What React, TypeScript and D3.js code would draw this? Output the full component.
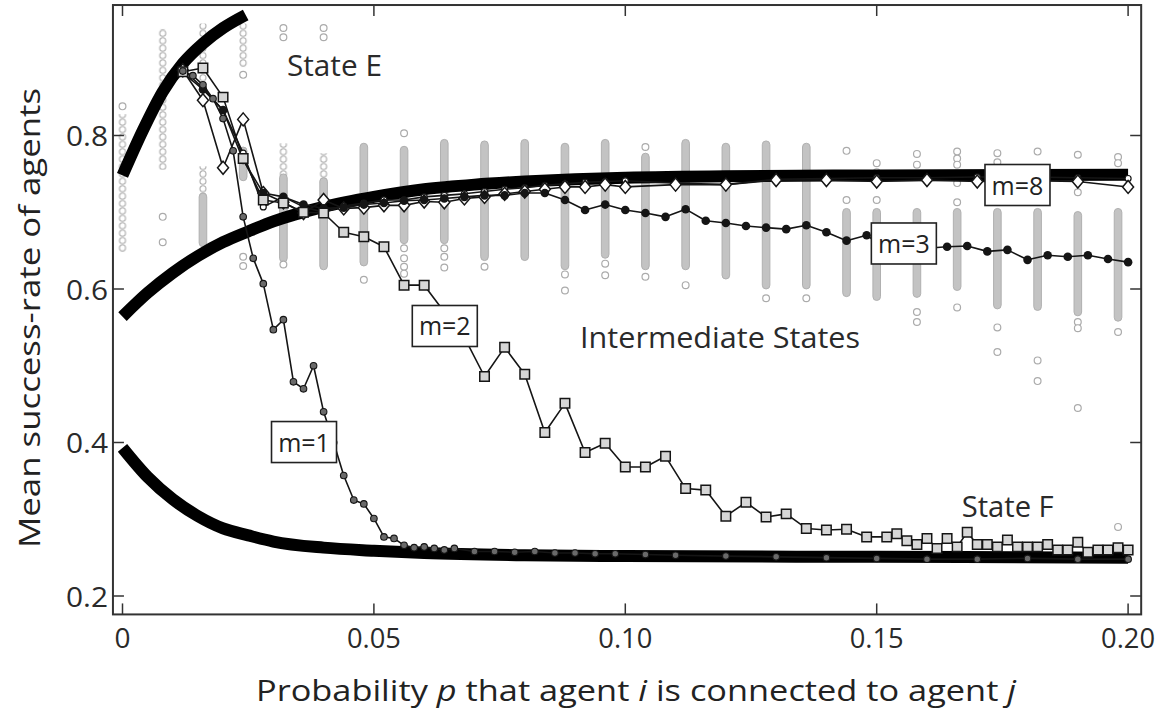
import React from 'react';
import * as d3 from 'd3';

type Pt = [number, number];

const W = 1163;
const H = 715;
const font = "'Open Sans', 'DejaVu Sans', sans-serif";

// axis ticks
const xTicks = [0, 0.05, 0.1, 0.15, 0.2];
const xTickLabels = ['0', '0.05', '0.10', '0.15', '0.20'];
const yTicks = [0.2, 0.4, 0.6, 0.8];
const yTickLabels = ['0.2', '0.4', '0.6', '0.8'];

// thick theory curves
const stateE: Pt[] = [
  [0, 0.748], [0.004, 0.806], [0.008, 0.857], [0.012, 0.894], [0.016, 0.92], [0.02, 0.94], [0.0245, 0.957],
];
const intermediate: Pt[] = [
  [0, 0.564], [0.005, 0.595], [0.01, 0.621], [0.015, 0.643], [0.02, 0.661], [0.025, 0.675], [0.03, 0.688],
  [0.04, 0.707], [0.05, 0.72], [0.06, 0.73], [0.07, 0.736], [0.08, 0.74], [0.09, 0.743], [0.1, 0.745],
  [0.12, 0.747], [0.15, 0.748], [0.2, 0.749],
];
const stateF: Pt[] = [
  [0, 0.393], [0.005, 0.355], [0.01, 0.326], [0.015, 0.304], [0.02, 0.288], [0.025, 0.279], [0.03, 0.271],
  [0.04, 0.263], [0.05, 0.259], [0.06, 0.256], [0.08, 0.253], [0.1, 0.252], [0.15, 0.251], [0.2, 0.25],
];

// grey scatter columns: p of each column, dense runs, chained runs and lone points
const colP = [
  0, 0.008, 0.016, 0.024, 0.032, 0.04, 0.048, 0.056, 0.064, 0.072, 0.08, 0.088, 0.096,
  0.104, 0.112, 0.12, 0.128, 0.136, 0.144, 0.15, 0.158, 0.166, 0.174, 0.182, 0.19, 0.198,
];
const colBands: Pt[][] = [
  [], [], [[0.66, 0.72]], [[0.746, 0.78]], [[0.64, 0.745]], [[0.63, 0.74]], [[0.635, 0.785]],
  [[0.664, 0.781]], [[0.664, 0.79]], [[0.642, 0.788]], [[0.642, 0.79]], [[0.63, 0.785]], [[0.645, 0.79]],
  [[0.63, 0.772]], [[0.63, 0.79]], [[0.618, 0.785]], [[0.605, 0.788]], [[0.605, 0.785]], [[0.595, 0.7]],
  [[0.59, 0.7]], [[0.594, 0.7]], [[0.603, 0.7]], [[0.579, 0.7]], [[0.577, 0.7]], [[0.57, 0.696]], [[0.563, 0.7]],
];
const colChains: Pt[][] = [
  [[0.653, 0.823]], [[0.76, 0.934]], [[0.876, 0.941], [0.72, 0.755]], [[0.894, 0.941]], [[0.745, 0.785]],
  [[0.74, 0.772]], [], [], [], [], [], [], [], [], [], [], [], [], [], [], [], [], [], [], [], [],
];
const colDots: number[][] = [
  [0.838], [0.694, 0.661], [], [0.879, 0.642, 0.63], [0.94, 0.928, 0.632], [0.94, 0.928], [0.612],
  [0.803, 0.653, 0.64, 0.629, 0.62], [0.653, 0.642, 0.628], [0.629], [], [0.619, 0.598], [0.633, 0.618],
  [0.785, 0.616], [0.605], [], [0.588], [0.588], [0.78, 0.716], [0.764, 0.752, 0.716],
  [0.776, 0.762, 0.748, 0.57, 0.557], [0.779, 0.77, 0.762, 0.738, 0.713, 0.576], [0.777, 0.765, 0.55, 0.518],
  [0.779, 0.507, 0.48], [0.775, 0.726, 0.557, 0.549, 0.445], [0.772, 0.764, 0.544, 0.29],
];

// simulation series
const m1: Pt[] = [
  [0.012, 0.884], [0.014, 0.878], [0.016, 0.866], [0.018, 0.848], [0.02, 0.822], [0.022, 0.78], [0.024, 0.694],
  [0.026, 0.64], [0.028, 0.607], [0.03, 0.547], [0.032, 0.56], [0.034, 0.479], [0.036, 0.47], [0.038, 0.5],
  [0.04, 0.44], [0.042, 0.4], [0.044, 0.357], [0.046, 0.325], [0.048, 0.32], [0.05, 0.301], [0.052, 0.277],
  [0.054, 0.275], [0.056, 0.266], [0.058, 0.263], [0.06, 0.264], [0.062, 0.262], [0.064, 0.26], [0.066, 0.262],
  [0.07, 0.258], [0.074, 0.258], [0.078, 0.257], [0.082, 0.258], [0.086, 0.256], [0.09, 0.256], [0.094, 0.255],
  [0.098, 0.255], [0.104, 0.254], [0.11, 0.253], [0.12, 0.252], [0.13, 0.251], [0.14, 0.25], [0.15, 0.249],
  [0.16, 0.248], [0.17, 0.248], [0.18, 0.249], [0.19, 0.248], [0.2, 0.248],
];
const m2: Pt[] = [
  [0.012, 0.883], [0.016, 0.888], [0.02, 0.85], [0.024, 0.77], [0.028, 0.716], [0.032, 0.712], [0.036, 0.7],
  [0.04, 0.699], [0.044, 0.674], [0.048, 0.668], [0.052, 0.655], [0.056, 0.605], [0.06, 0.605], [0.064, 0.57],
  [0.068, 0.537], [0.072, 0.486], [0.076, 0.524], [0.08, 0.489], [0.084, 0.413], [0.088, 0.451], [0.092, 0.387],
  [0.096, 0.399], [0.1, 0.368], [0.104, 0.368], [0.108, 0.382], [0.112, 0.34], [0.116, 0.338], [0.12, 0.304],
  [0.124, 0.322], [0.128, 0.303], [0.132, 0.307], [0.136, 0.288], [0.14, 0.286], [0.144, 0.287], [0.148, 0.277],
  [0.152, 0.277], [0.154, 0.281], [0.156, 0.272], [0.158, 0.267], [0.16, 0.275], [0.162, 0.262], [0.164, 0.275],
  [0.166, 0.264], [0.168, 0.283], [0.17, 0.267], [0.172, 0.267], [0.174, 0.264], [0.176, 0.273], [0.178, 0.264],
  [0.18, 0.264], [0.182, 0.264], [0.184, 0.267], [0.186, 0.26], [0.188, 0.26], [0.19, 0.27], [0.192, 0.257],
  [0.194, 0.26], [0.196, 0.26], [0.198, 0.263], [0.2, 0.26],
];
const m3: Pt[] = [
  [0.012, 0.882], [0.016, 0.86], [0.02, 0.833], [0.024, 0.768], [0.028, 0.725], [0.032, 0.72], [0.036, 0.71],
  [0.04, 0.705], [0.044, 0.706], [0.048, 0.71], [0.052, 0.712], [0.056, 0.715], [0.06, 0.716], [0.064, 0.718],
  [0.068, 0.72], [0.072, 0.722], [0.076, 0.722], [0.08, 0.725], [0.084, 0.725], [0.088, 0.716], [0.092, 0.703],
  [0.096, 0.71], [0.1, 0.703], [0.104, 0.699], [0.108, 0.694], [0.112, 0.704], [0.116, 0.689], [0.12, 0.686],
  [0.124, 0.682], [0.128, 0.68], [0.132, 0.678], [0.136, 0.683], [0.14, 0.674], [0.144, 0.663], [0.148, 0.67],
  [0.152, 0.652], [0.156, 0.652], [0.16, 0.653], [0.164, 0.655], [0.168, 0.656], [0.172, 0.649], [0.176, 0.651],
  [0.18, 0.638], [0.184, 0.644], [0.188, 0.642], [0.192, 0.644], [0.196, 0.639], [0.2, 0.635],
];
const m8: Pt[] = [
  [0.012, 0.885], [0.016, 0.846], [0.02, 0.758], [0.024, 0.821], [0.028, 0.725], [0.032, 0.713], [0.036, 0.699],
  [0.04, 0.716], [0.044, 0.705], [0.048, 0.706], [0.052, 0.709], [0.056, 0.709], [0.06, 0.714], [0.064, 0.713],
  [0.068, 0.718], [0.072, 0.72], [0.076, 0.724], [0.08, 0.727], [0.084, 0.73], [0.088, 0.733], [0.092, 0.733],
  [0.096, 0.736], [0.1, 0.733], [0.11, 0.736], [0.12, 0.736], [0.13, 0.742], [0.14, 0.742], [0.15, 0.74],
  [0.16, 0.742], [0.17, 0.74], [0.18, 0.741], [0.19, 0.74], [0.2, 0.733],
];
const mOther: Pt[] = [
  [0.012, 0.886], [0.016, 0.862], [0.02, 0.833], [0.024, 0.777], [0.028, 0.707], [0.032, 0.72], [0.036, 0.707],
  [0.04, 0.7], [0.044, 0.708], [0.048, 0.712], [0.052, 0.716], [0.056, 0.716], [0.06, 0.72], [0.064, 0.722],
  [0.068, 0.724], [0.072, 0.727], [0.076, 0.73], [0.08, 0.732], [0.084, 0.735], [0.088, 0.737], [0.092, 0.739],
  [0.096, 0.74], [0.1, 0.741], [0.11, 0.738], [0.12, 0.736], [0.13, 0.743], [0.14, 0.744], [0.15, 0.745],
  [0.16, 0.745], [0.17, 0.746], [0.18, 0.746], [0.19, 0.745], [0.2, 0.744],
];

// annotations, placed in data units
const boxLabels = [
  { text: 'm=1', p: 0.0361, v: 0.4006 },
  { text: 'm=2', p: 0.0641, v: 0.5518 },
  { text: 'm=3', p: 0.1554, v: 0.6593 },
  { text: 'm=8', p: 0.178, v: 0.7355 },
];
const stateLabels = [
  { text: 'State E', p: 0.0327, v: 0.8775, len: 95 },
  { text: 'Intermediate States', p: 0.091, v: 0.5235, len: 280 },
  { text: 'State F', p: 0.1669, v: 0.303, len: 92 },
];

const x = d3.scaleLinear().domain([0, 0.2]).range([122.5, 1128.1]);
const y = d3.scaleLinear().domain([0.2, 0.8]).range([596, 135.5]);
const frameP = [-0.0019, 0.2026];
const frameV = [0.176, 0.97];

const line = d3.line<Pt>().x((d) => x(d[0])).y((d) => y(d[1]));
const smooth = d3.line<Pt>().x((d) => x(d[0])).y((d) => y(d[1])).curve(d3.curveMonotoneX);

const sym = (type: d3.SymbolType, size: number) => d3.symbol().type(type).size(size)() as string;
const squarePath = sym(d3.symbolSquare, 90);
const diamondPath = 'M0,-6.5L5.5,0L0,6.5L-5.5,0Z';

export default function App() {
  const left = x(frameP[0]);
  const right = x(frameP[1]);
  const top = y(frameV[1]);
  const bottom = y(frameV[0]);
  const ink = '#151515';

  return (
    <svg width={W} height={H} style={{ position: 'absolute', left: 0, top: 0, background: '#fff' }}>
      <defs>
        {colP.map((p, k) => (
          <pattern key={k} id={`chain${k}`} width={8} height={7.4} patternUnits="userSpaceOnUse"
            patternTransform={`translate(${x(p) - 4},0)`}>
            <rect width={8} height={7.4} fill="#fff" />
            <circle cx={4} cy={3.7} r={3} fill="#fff" stroke="#ababab" strokeWidth={1.1} />
          </pattern>
        ))}
      </defs>

      {/* scatter columns */}
      <g>
        {colP.map((p, k) => (
          <g key={k}>
            {colChains[k].map(([lo, hi], i) => (
              <rect key={'c' + i} x={x(p) - 4} y={y(hi) - 3.7} width={8} height={y(lo) - y(hi) + 7.4}
                fill={`url(#chain${k})`} />
            ))}
            {colBands[k].map(([lo, hi], i) => (
              <rect key={'b' + i} x={x(p) - 3.8} y={y(hi) - 3.8} width={7.6} height={y(lo) - y(hi) + 7.6}
                rx={3.8} fill="#c3c3c3" stroke="#b0b0b0" strokeWidth={1} />
            ))}
            {colDots[k].map((v, i) => (
              <circle key={'d' + i} cx={x(p)} cy={y(v)} r={3.4} fill="#fff" stroke="#ababab" strokeWidth={1.2} />
            ))}
          </g>
        ))}
      </g>

      {/* thick curves */}
      {[stateE, intermediate, stateF].map((c, i) => (
        <path key={i} d={smooth(c) as string} fill="none" stroke="#000" strokeWidth={12} />
      ))}

      {/* simulation lines */}
      {[mOther, m8, m3, m2, m1].map((s, i) => (
        <path key={i} d={line(s) as string} fill="none" stroke={ink} strokeWidth={1.6} strokeLinejoin="round" />
      ))}
      {mOther.map((d, i) => (
        <circle key={'o' + i} cx={x(d[0])} cy={y(d[1])} r={3} fill="#fff" stroke={ink} strokeWidth={1.2} />
      ))}
      {m8.map((d, i) => (
        <path key={'e' + i} d={diamondPath} transform={`translate(${x(d[0])},${y(d[1])})`}
          fill="#fff" stroke={ink} strokeWidth={1.5} />
      ))}
      {m3.map((d, i) => (
        <circle key={'t' + i} cx={x(d[0])} cy={y(d[1])} r={4.3} fill={ink} />
      ))}
      {m2.map((d, i) => (
        <path key={'s' + i} d={squarePath} transform={`translate(${x(d[0])},${y(d[1])})`}
          fill="#d6d6d6" stroke={ink} strokeWidth={1.5} />
      ))}
      {m1.map((d, i) => (
        <circle key={'u' + i} cx={x(d[0])} cy={y(d[1])} r={3.3} fill="#6a6a6a" stroke={ink} strokeWidth={1.1} />
      ))}

      {/* label boxes */}
      {boxLabels.map((b) => (
        <g key={b.text} transform={`translate(${x(b.p)},${y(b.v)})`}>
          <rect x={-32.5} y={-20.5} width={65} height={41} fill="#fff" stroke="#222" strokeWidth={1.6} />
          <text x={0} y={9.5} textAnchor="middle" fontFamily={font} fontSize={25} fill="#222">{b.text}</text>
        </g>
      ))}

      {stateLabels.map((s) => (
        <text key={s.text} x={x(s.p)} y={y(s.v)} fontFamily={font} fontSize={29} fill="#2a2a2a"
          textLength={s.len} lengthAdjust="spacingAndGlyphs">{s.text}</text>
      ))}

      {/* frame and ticks */}
      <rect x={left} y={top} width={right - left} height={bottom - top} fill="none" stroke="#333" strokeWidth={2} />
      {xTicks.map((t, i) => (
        <g key={'x' + i}>
          <line x1={x(t)} x2={x(t)} y1={bottom} y2={bottom - 11} stroke="#333" strokeWidth={1.5} />
          <line x1={x(t)} x2={x(t)} y1={top} y2={top + 11} stroke="#333" strokeWidth={1.5} />
          <text x={x(t)} y={648} textAnchor="middle" fontFamily={font} fontSize={28} fill="#2a2a2a"
            textLength={i === 0 ? undefined : 54} lengthAdjust="spacingAndGlyphs">{xTickLabels[i]}</text>
        </g>
      ))}
      {yTicks.map((t, i) => (
        <g key={'y' + i}>
          <line x1={left} x2={left + 11} y1={y(t)} y2={y(t)} stroke="#333" strokeWidth={1.5} />
          <line x1={right} x2={right - 11} y1={y(t)} y2={y(t)} stroke="#333" strokeWidth={1.5} />
          <text x={108} y={y(t) + 10.5} textAnchor="end" fontFamily={font} fontSize={28} fill="#2a2a2a"
            textLength={42} lengthAdjust="spacingAndGlyphs">{yTickLabels[i]}</text>
        </g>
      ))}

      {/* axis titles */}
      <text x={636} y={701} textAnchor="middle" fontFamily={font} fontSize={29} fill="#222"
        textLength={760} lengthAdjust="spacingAndGlyphs">
        Probability <tspan fontStyle="italic">p</tspan> that agent <tspan fontStyle="italic">i</tspan> is connected to agent <tspan fontStyle="italic">j</tspan>
      </text>
      <text transform="translate(40,318) rotate(-90)" textAnchor="middle" fontFamily={font} fontSize={29} fill="#222"
        textLength={460} lengthAdjust="spacingAndGlyphs">
        Mean success-rate of agents
      </text>
    </svg>
  );
}
